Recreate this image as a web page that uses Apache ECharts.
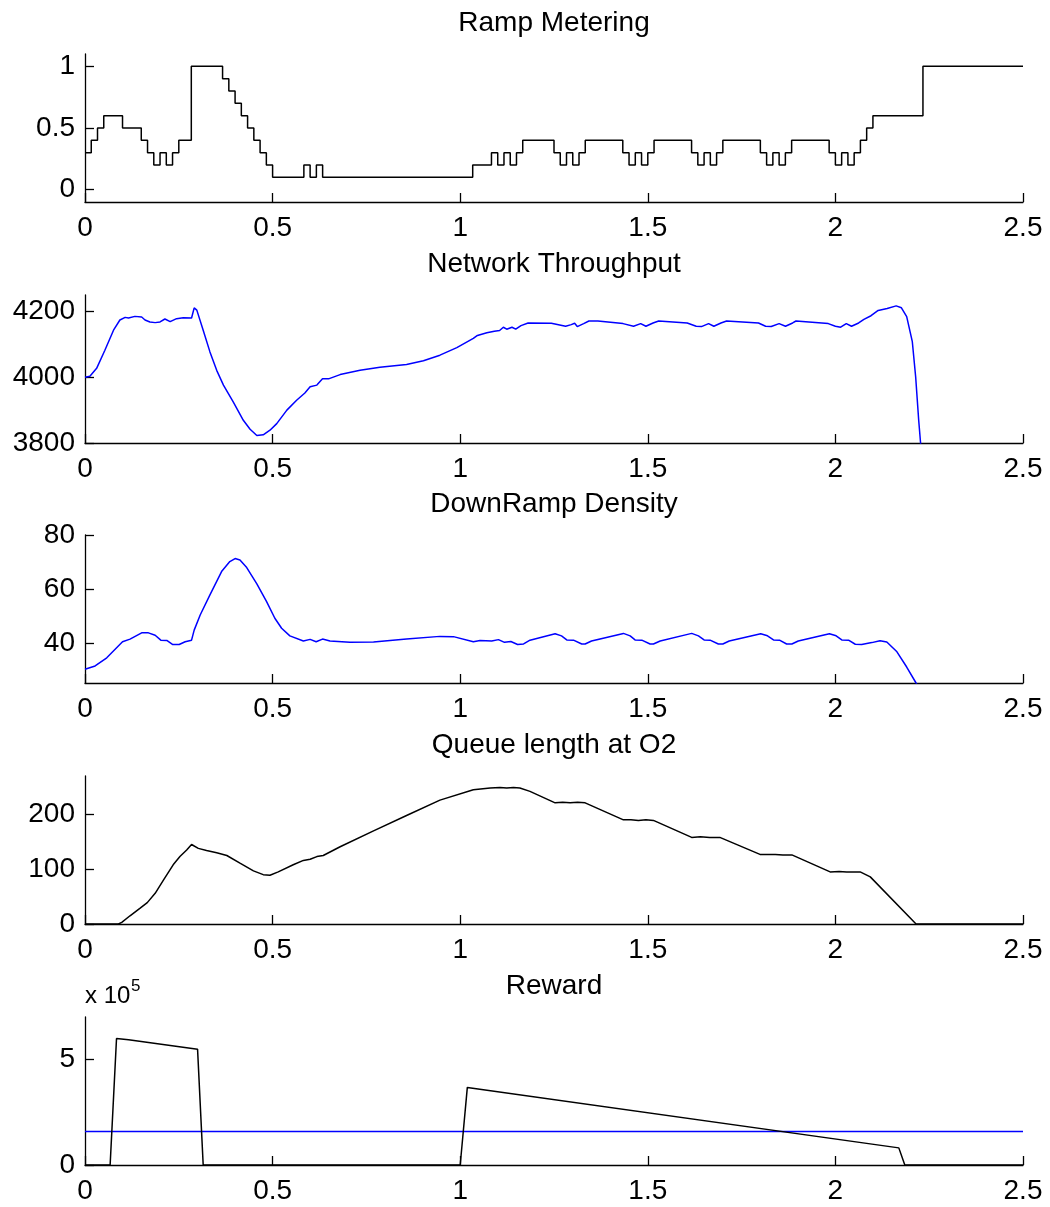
<!DOCTYPE html>
<html>
<head>
<meta charset="utf-8">
<title>Ramp Metering</title>
<script src="https://cdn.jsdelivr.net/npm/echarts@6/dist/echarts.min.js"></script>
<style>
  html, body { margin: 0; padding: 0; background: #fff; }
  #main { width: 1050px; height: 1207px; }
</style>
</head>
<body>
<div id="main"></div>
<script>
// ramp metering rate: minute at which the rate changes, and the new rate (stairs)
const rampMin = [0, 1, 2, 3, 6, 9, 10, 11, 12, 13, 14, 15, 17, 22, 23, 24, 25, 26, 27, 28,
  29, 30, 35, 36, 37, 38, 62, 65, 66, 67, 68, 69, 70, 75, 76, 77, 78, 79, 80, 86,
  87, 88, 89, 90, 91, 97, 98, 99, 100, 101, 102, 108, 109, 110, 111, 112, 113, 119, 120, 121,
  122, 123, 124, 125, 126, 134, 150]
const rampVal = [0.3, 0.4, 0.5, 0.6, 0.5, 0.4, 0.3, 0.2, 0.3, 0.2, 0.3, 0.4, 1.0, 0.9, 0.8, 0.7, 0.6, 0.5, 0.4, 0.3,
  0.2, 0.1, 0.2, 0.1, 0.2, 0.1, 0.2, 0.3, 0.2, 0.3, 0.2, 0.3, 0.4, 0.3, 0.2, 0.3, 0.2, 0.3, 0.4, 0.3,
  0.2, 0.3, 0.2, 0.3, 0.4, 0.3, 0.2, 0.3, 0.2, 0.3, 0.4, 0.3, 0.2, 0.3, 0.2, 0.3, 0.4, 0.3, 0.2, 0.3,
  0.2, 0.3, 0.4, 0.5, 0.6, 1.0, 1.0]

// [time (h), value]
const throughput = [
  [0, 4000], [0.013, 4003], [0.031, 4027], [0.053, 4082], [0.076, 4143], [0.093, 4174], [0.107, 4182],
  [0.116, 4180], [0.133, 4185], [0.151, 4183], [0.160, 4174], [0.173, 4168], [0.187, 4166], [0.200, 4168],
  [0.213, 4177], [0.227, 4169], [0.244, 4178], [0.262, 4181], [0.284, 4180], [0.291, 4211], [0.298, 4204],
  [0.315, 4143], [0.333, 4077], [0.351, 4021], [0.369, 3976], [0.395, 3925], [0.422, 3869], [0.440, 3842],
  [0.458, 3823], [0.475, 3825], [0.493, 3839], [0.511, 3859], [0.538, 3900], [0.564, 3930], [0.586, 3952],
  [0.600, 3971], [0.618, 3976], [0.633, 3995], [0.649, 3995], [0.680, 4008], [0.733, 4021], [0.786, 4030],
  [0.857, 4039], [0.902, 4050], [0.946, 4067], [0.991, 4090], [1.035, 4118], [1.046, 4127], [1.071, 4135],
  [1.091, 4140], [1.105, 4142], [1.115, 4152], [1.124, 4146], [1.138, 4152], [1.148, 4146], [1.162, 4157],
  [1.181, 4165], [1.243, 4164], [1.281, 4155], [1.296, 4160], [1.305, 4164], [1.312, 4154], [1.329, 4163],
  [1.343, 4171], [1.367, 4171], [1.434, 4163], [1.462, 4155], [1.481, 4163], [1.495, 4155], [1.514, 4165],
  [1.529, 4171], [1.605, 4165], [1.629, 4155], [1.643, 4154], [1.662, 4163], [1.676, 4155], [1.695, 4165],
  [1.710, 4171], [1.795, 4165], [1.814, 4155], [1.829, 4154], [1.850, 4163], [1.867, 4155], [1.886, 4165],
  [1.895, 4171], [1.981, 4163], [2.000, 4155], [2.014, 4152], [2.029, 4163], [2.043, 4155], [2.062, 4165],
  [2.076, 4176], [2.095, 4187], [2.114, 4203], [2.138, 4209], [2.162, 4217], [2.176, 4211], [2.190, 4184],
  [2.205, 4108], [2.214, 4000], [2.222, 3869], [2.227, 3800], [2.232, 3700]
]

const density = [
  [0, 30.5], [0.027, 31.7], [0.058, 34.7], [0.100, 40.6], [0.120, 41.6], [0.151, 43.9], [0.169, 43.9],
  [0.187, 43.0], [0.202, 41.2], [0.218, 41.1], [0.234, 39.6], [0.251, 39.6], [0.267, 40.6], [0.284, 41.2],
  [0.291, 44.9], [0.307, 50.5], [0.333, 57.9], [0.364, 66.5], [0.386, 70.2], [0.400, 71.3], [0.413, 70.8],
  [0.431, 68.0], [0.458, 62.0], [0.484, 55.4], [0.506, 49.3], [0.524, 45.6], [0.546, 42.8], [0.582, 40.9],
  [0.600, 41.5], [0.616, 40.6], [0.633, 41.6], [0.653, 40.9], [0.706, 40.4], [0.769, 40.5], [0.857, 41.6],
  [0.946, 42.6], [0.982, 42.5], [1.035, 40.6], [1.053, 41.1], [1.084, 40.9], [1.102, 41.4], [1.118, 40.4],
  [1.135, 40.7], [1.153, 39.6], [1.169, 39.8], [1.186, 41.2], [1.253, 43.6], [1.270, 42.8], [1.284, 41.3],
  [1.302, 41.2], [1.324, 39.8], [1.333, 39.8], [1.350, 40.9], [1.435, 43.7], [1.453, 42.8], [1.466, 41.3],
  [1.484, 41.2], [1.506, 39.8], [1.515, 39.8], [1.533, 40.9], [1.617, 43.7], [1.635, 42.8], [1.650, 41.3],
  [1.666, 41.2], [1.688, 39.8], [1.700, 39.8], [1.717, 40.9], [1.801, 43.6], [1.819, 42.8], [1.835, 41.3],
  [1.851, 41.2], [1.870, 39.8], [1.884, 39.8], [1.901, 40.9], [1.984, 43.6], [2.002, 42.8], [2.017, 41.3],
  [2.035, 41.2], [2.053, 39.7], [2.070, 39.6], [2.097, 40.3], [2.119, 41.0], [2.137, 40.5], [2.164, 36.9],
  [2.190, 31.3], [2.215, 25.4], [2.225, 23.0]
]

const queue = [
  [0, 0], [0.089, 0], [0.098, 3], [0.120, 15], [0.147, 29], [0.166, 39], [0.187, 56], [0.209, 80],
  [0.235, 108], [0.253, 123], [0.271, 135], [0.284, 145], [0.302, 138], [0.324, 134], [0.351, 130],
  [0.378, 125], [0.413, 111], [0.449, 97], [0.475, 90], [0.493, 89], [0.515, 95], [0.555, 108],
  [0.582, 116], [0.600, 118], [0.618, 123], [0.635, 125], [0.680, 141], [0.769, 170], [0.857, 198],
  [0.946, 226], [1.035, 245], [1.080, 248], [1.106, 249], [1.124, 248], [1.142, 249], [1.159, 248],
  [1.186, 242], [1.253, 221], [1.273, 222], [1.293, 221], [1.313, 222], [1.333, 221], [1.435, 190],
  [1.455, 190], [1.475, 189], [1.495, 190], [1.515, 189], [1.617, 158], [1.640, 159], [1.665, 158],
  [1.692, 158], [1.799, 127], [1.820, 127], [1.840, 127], [1.860, 126], [1.884, 126], [1.986, 95],
  [2.010, 96], [2.030, 95], [2.050, 95], [2.066, 95], [2.093, 86], [2.215, 0], [2.5, 0]
]

const reward = [
  [0, 0], [0.067, 0], [0.084, 598000], [0.116, 592000], [0.300, 548000], [0.315, 0], [1.000, 0],
  [1.019, 367000], [2.169, 81000], [2.185, 0], [2.5, 0]
]
const rewardMean = [[0, 159000], [2.5, 159000]]

const titles = ['Ramp Metering', 'Network Throughput', 'DownRamp Density', 'Queue length at O2', 'Reward']
const xTicks = { min: 0, max: 2.5, step: 0.5 }
const yRanges = [[-0.1, 1.1], [3800, 4250], [25.4, 80], [0, 270], [0, 700000]]
const yTicks = [[0, 0.5, 1], [3800, 4000, 4200], [40, 60, 80], [0, 100, 200], [0, 500000]]

const FONT = "'Liberation Sans', Arial, Helvetica, sans-serif"
const gridTops = [54, 295, 535, 776, 1017]
const plotH = 148

const chart = echarts.init(document.getElementById('main'))

const grids = gridTops.map(t => ({ left: 85, width: 938, top: t, height: plotH }))

const xAxes = gridTops.map((t, i) => ({
  gridIndex: i,
  type: 'value',
  min: xTicks.min,
  max: xTicks.max,
  interval: xTicks.step,
  axisLine: { show: true, onZero: false, lineStyle: { color: '#000', width: 1.3 } },
  axisTick: { show: true, inside: true, length: 9, lineStyle: { color: '#000', width: 1.3 } },
  axisLabel: { color: '#000', fontSize: 28, fontFamily: FONT, margin: 12 },
  splitLine: { show: false }
}))

const yAxes = gridTops.map((t, i) => ({
  gridIndex: i,
  type: 'value',
  min: yRanges[i][0],
  max: yRanges[i][1],
  axisLine: { show: true, onZero: false, lineStyle: { color: '#000', width: 1.3 } },
  axisTick: { show: true, inside: true, length: 9, customValues: yTicks[i], lineStyle: { color: '#000', width: 1.3 } },
  axisLabel: {
    color: '#000', fontSize: 28, fontFamily: FONT, margin: 10,
    customValues: yTicks[i],
    formatter: v => (i === 4 ? String(v / 100000) : String(v))
  },
  splitLine: { show: false }
}))

const lineSeries = (idx, data, color, extra) => Object.assign({
  type: 'line',
  xAxisIndex: idx,
  yAxisIndex: idx,
  data: data,
  showSymbol: false,
  symbol: 'none',
  lineStyle: { color: color, width: 1.5 },
  itemStyle: { color: color },
  clip: true,
  silent: true
}, extra || {})

const rampData = rampMin.map((m, i) => [m / 60, rampVal[i]])

const series = [
  lineSeries(0, rampData, '#000', { step: 'end' }),
  lineSeries(1, throughput, '#0000ff'),
  lineSeries(2, density, '#0000ff'),
  lineSeries(3, queue, '#000'),
  lineSeries(4, rewardMean, '#0000ff'),
  lineSeries(4, reward, '#000')
]

// subplot titles and the exponent label of the reward axis
const graphics = titles.map((txt, i) => ({
  type: 'text',
  x: 554,
  y: gridTops[i] - 31,
  style: { text: txt, fill: '#000', fontSize: 28, fontFamily: FONT, align: 'center', verticalAlign: 'middle' }
}))
graphics.push({
  type: 'text', x: 85, y: 996,
  style: { text: 'x 10', fill: '#000', fontSize: 24, fontFamily: FONT, align: 'left', verticalAlign: 'middle' }
})
graphics.push({
  type: 'text', x: 131, y: 986,
  style: { text: '5', fill: '#000', fontSize: 17, fontFamily: FONT, align: 'left', verticalAlign: 'middle' }
})

chart.setOption({
  animation: false,
  backgroundColor: '#fff',
  grid: grids,
  xAxis: xAxes,
  yAxis: yAxes,
  series: series,
  graphic: graphics
})
</script>
</body>
</html>
